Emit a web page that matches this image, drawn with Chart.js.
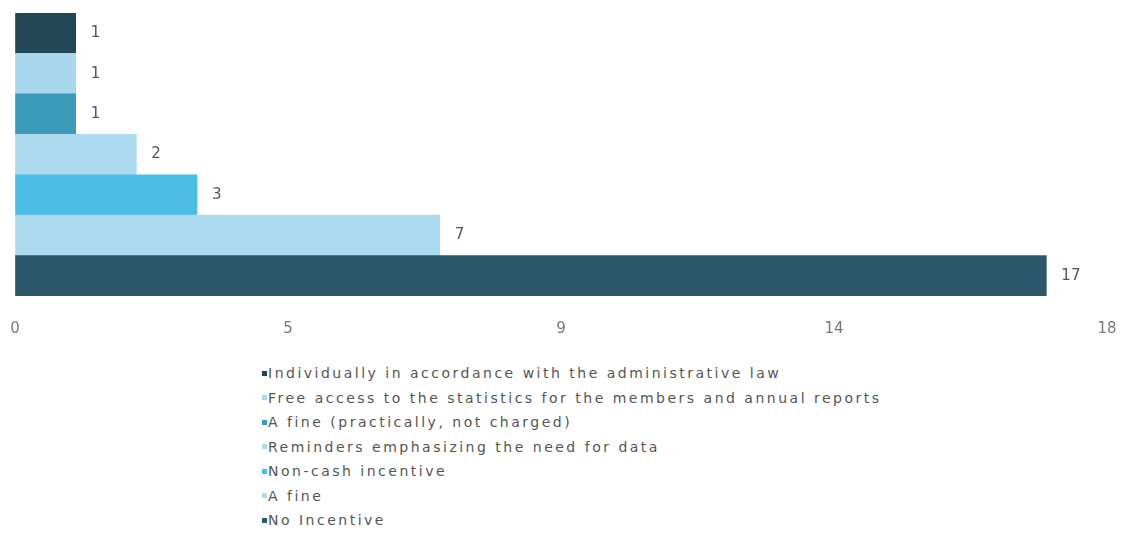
<!DOCTYPE html>
<html>
<head>
<meta charset="utf-8">
<script src="https://cdn.jsdelivr.net/npm/chart.js@4/dist/chart.umd.min.js"></script>
<style>
    html, body { margin: 0; padding: 0; background: #fff; }
    #wrap { position: relative; width: 1129px; height: 533px; }
    #box { position: relative; width: 1129px; height: 341px; }
    #legend {
        list-style: none;
        margin: 20px 0 0 0;
        padding: 0 0 0 262px;
        font-family: "DejaVu Sans", sans-serif;
        font-size: 14px;
        letter-spacing: 2.5px;
        color: #555;
    }
    #legend li { height: 24.5px; line-height: 24.5px; white-space: nowrap; }
    #legend span.mark {
        display: inline-block;
        width: 5px;
        height: 5px;
        margin-right: 1px;
        vertical-align: middle;
        position: relative;
        top: -1px;
    }
</style>
</head>
<body>
<div id="wrap">
    <div id="box"><canvas id="chart"></canvas></div>
    <ul id="legend"></ul>
</div>
<script>
var categories = [
    'Individually in accordance with the administrative law',
    'Free access to the statistics for the members and annual reports',
    'A fine (practically, not charged)',
    'Reminders emphasizing the need for data',
    'Non-cash incentive',
    'A fine',
    'No Incentive'
];
var counts = [1, 1, 1, 2, 3, 7, 17];
var barColors = ['#234757', '#a8d8ee', '#3a9ab7', '#add9ee', '#4bbde6', '#acdbf0', '#2a5868'];
var tickValues = [0, 4.5, 9, 13.5, 18];

//writes the count just past the end of each bar:
var valueLabels = {
    id: 'valueLabels',
    afterDatasetsDraw: function(chart) {
        var ctx = chart.ctx;
        var meta = chart.getDatasetMeta(0);
        ctx.save();
        ctx.font = '15px "DejaVu Sans", sans-serif';
        ctx.fillStyle = '#555';
        ctx.textAlign = 'left';
        ctx.textBaseline = 'middle';
        meta.data.forEach(function(bar, i) {
            ctx.fillText(String(counts[i]), bar.x + 15, bar.y);
        });
        ctx.restore();
    }
};

var chart = new Chart(document.getElementById('chart'), {
    type: 'bar',
    data: {
        labels: categories,
        datasets: [{
            data: counts,
            backgroundColor: barColors,
            borderWidth: 0,
            categoryPercentage: 1,
            barPercentage: 1
        }]
    },
    options: {
        indexAxis: 'y',
        responsive: true,
        maintainAspectRatio: false,
        animation: false,
        layout: {
            padding: { top: 13, left: 15, right: 22, bottom: 0 }
        },
        plugins: {
            legend: { display: false },
            tooltip: { enabled: false }
        },
        scales: {
            x: {
                min: 0,
                max: 18,
                afterBuildTicks: function(axis) {
                    axis.ticks = tickValues.map(function(v) { return { value: v }; });
                },
                // invisible tick marks push the labels down without widening the sides
                grid: {
                    drawOnChartArea: false,
                    drawTicks: true,
                    tickLength: 21,
                    color: 'transparent'
                },
                border: { display: false },
                ticks: {
                    padding: 3,
                    color: '#777',
                    font: { family: '"DejaVu Sans", sans-serif', size: 15 },
                    maxRotation: 0,
                    callback: function(v) { return Math.round(v); }
                }
            },
            y: {
                display: false
            }
        }
    },
    plugins: [valueLabels]
});

//legend list built from the chart's own labels and colours:
var list = document.getElementById('legend');
chart.data.labels.forEach(function(name, i) {
    var li = document.createElement('li');
    var mark = document.createElement('span');
    mark.className = 'mark';
    mark.style.background = chart.data.datasets[0].backgroundColor[i];
    li.appendChild(mark);
    li.appendChild(document.createTextNode(name));
    list.appendChild(li);
});
</script>
</body>
</html>
